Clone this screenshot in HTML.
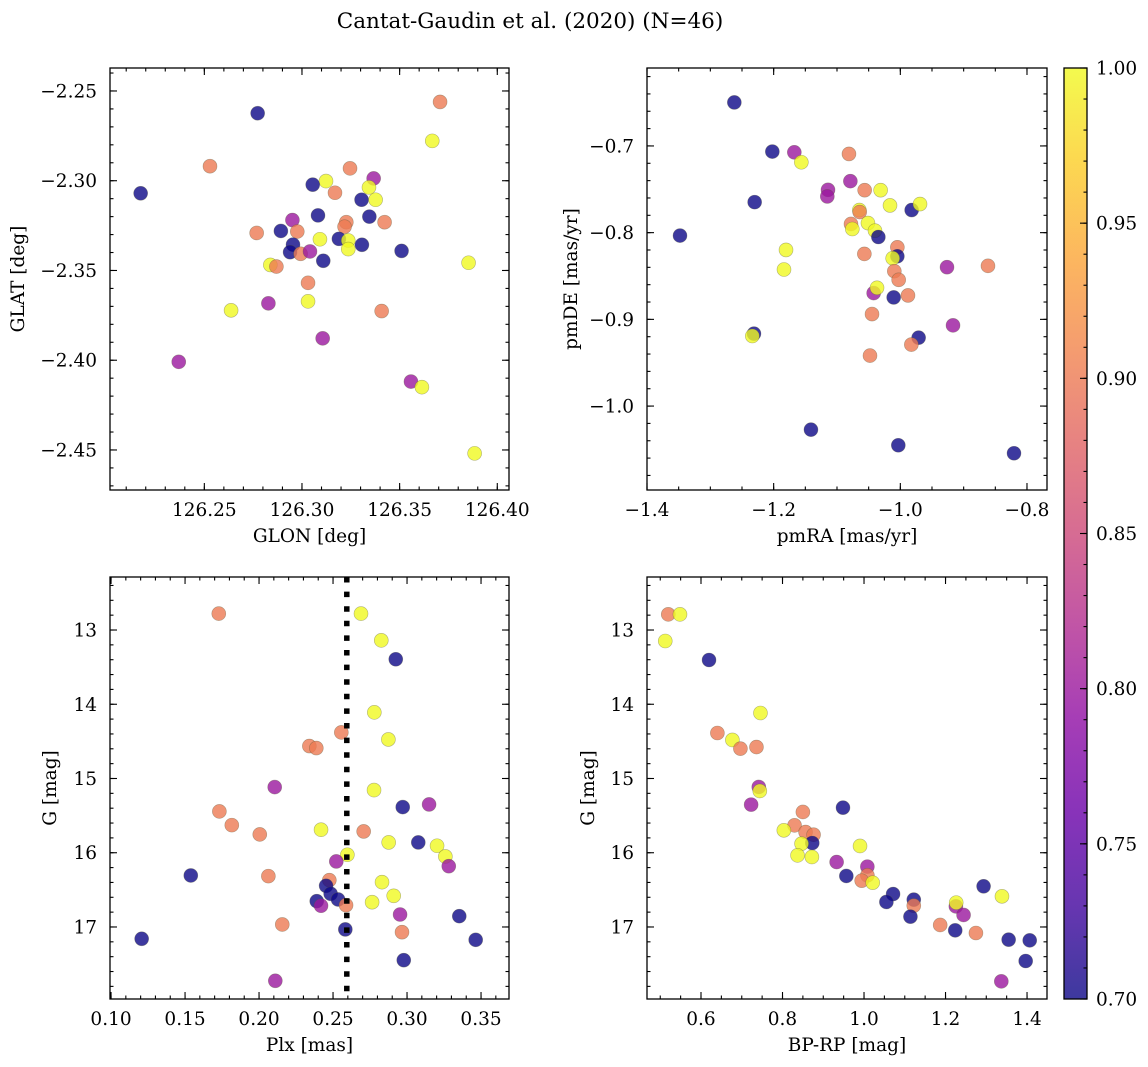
<!DOCTYPE html>
<html><head><meta charset="utf-8"><style>
html,body{margin:0;padding:0;background:#fff;}
svg{display:block;font-family:"DejaVu Serif","Liberation Serif",serif;}
</style></head><body>
<svg id="fig" width="1148" height="1067" viewBox="0 0 1148 1067" xmlns="http://www.w3.org/2000/svg">
<defs>
<linearGradient id="plasmaGrad" x1="0" y1="1" x2="0" y2="0">
<stop offset="0" stop-color="#0d0887"/><stop offset="0.1" stop-color="#41049d"/><stop offset="0.2" stop-color="#6a00a8"/><stop offset="0.3" stop-color="#8f0da4"/><stop offset="0.4" stop-color="#b12a90"/><stop offset="0.5" stop-color="#cc4778"/><stop offset="0.6" stop-color="#e16462"/><stop offset="0.7" stop-color="#f2844b"/><stop offset="0.8" stop-color="#fca636"/><stop offset="0.9" stop-color="#fcce25"/><stop offset="1" stop-color="#f0f921"/>
</linearGradient>
</defs>
<text x="530" y="28" font-size="21.5" text-anchor="middle">Cantat-Gaudin et al. (2020) (N=46)</text>
</svg>
<script>
// ---- data: sky positions ----
const skyGlon=[126.2174,126.2773,126.2529,126.3707,126.3667,126.3246,126.3367,126.3123,126.3055,126.3343,126.3169,126.3305,126.3377,126.3082,126.3345,126.3423,126.2951,126.3227,126.3218,126.2768,126.2892,126.2976,126.3092,126.3189,126.3237,126.3237,126.3307,126.2954,126.2939,126.2993,126.3041,126.3109,126.3510,126.3853,126.2838,126.2869,126.3031,126.3031,126.2828,126.2637,126.3408,126.3106,126.2369,126.3558,126.3614,126.3884];
const skyGlat=[-2.3070,-2.2624,-2.2919,-2.2561,-2.2778,-2.2931,-2.2987,-2.3002,-2.3022,-2.3037,-2.3067,-2.3106,-2.3106,-2.3193,-2.3200,-2.3231,-2.3219,-2.3231,-2.3256,-2.3291,-2.3280,-2.3283,-2.3326,-2.3324,-2.3333,-2.3381,-2.3357,-2.3356,-2.3398,-2.3407,-2.3394,-2.3446,-2.3391,-2.3457,-2.3469,-2.3478,-2.3569,-2.3672,-2.3683,-2.3722,-2.3726,-2.3878,-2.4009,-2.4119,-2.4150,-2.4519];
const skyProb=[.70,.70,.90,.90,1,.90,.80,1,.70,1,.90,.70,1,.70,.70,.90,.80,.90,.90,.90,.70,.90,1,.70,1,1,.70,.70,.70,.90,.80,.70,.70,1,1,.90,.90,1,.80,1,.90,.80,.80,.80,1,1];
// ---- data: proper motions ----
const pmRA=[-1.2621,-1.2021,-1.1674,-1.1563,-1.0811,-1.0789,-1.1142,-1.1153,-1.0563,-1.0311,-1.0163,-0.9821,-0.9689,-1.2300,-1.0647,-1.0642,-1.0779,-1.0758,-1.0511,-1.0400,-1.0347,-1.3479,-1.1805,-1.1837,-1.0568,-1.0047,-1.0047,-1.0121,-1.0095,-1.0026,-0.9263,-0.8616,-1.0421,-1.0368,-1.0105,-0.9879,-1.0447,-0.9168,-0.9711,-0.9826,-1.0479,-1.2311,-1.2337,-1.1411,-1.0032,-0.8205];
const pmDE=[-0.6498,-0.7065,-0.7073,-0.7188,-0.7092,-0.7406,-0.7506,-0.7582,-0.7510,-0.7510,-0.7686,-0.7739,-0.7670,-0.7648,-0.7739,-0.7762,-0.7900,-0.7958,-0.7889,-0.7977,-0.8050,-0.8034,-0.8199,-0.8425,-0.8245,-0.8169,-0.8272,-0.8295,-0.8444,-0.8544,-0.8398,-0.8383,-0.8697,-0.8636,-0.8747,-0.8724,-0.8939,-0.9069,-0.9211,-0.9291,-0.9418,-0.9165,-0.9192,-1.0272,-1.0452,-1.0544];
const pmProb=[.70,.70,.80,1,.90,.80,.80,.80,.90,1,1,.70,1,.70,1,.90,.90,1,1,1,.70,.70,1,1,.90,.90,.70,1,.90,.90,.80,.90,.80,1,.70,.90,.90,.80,.70,.90,.90,.70,1,.70,.70,.70];
// ---- data: parallax vs G ----
const plxVals=[0.1728,0.2689,0.2826,0.2924,0.2779,0.2556,0.2874,0.2340,0.2387,0.2106,0.2777,0.2971,0.3149,0.1732,0.1816,0.2005,0.2419,0.2707,0.2876,0.3076,0.3203,0.3259,0.3282,0.2597,0.2522,0.1539,0.2063,0.2475,0.2453,0.2484,0.2534,0.2390,0.2419,0.2588,0.2831,0.2910,0.2764,0.2953,0.3353,0.2157,0.2583,0.2966,0.1207,0.3464,0.2978,0.2110];
const plxG=[12.779,12.779,13.139,13.394,14.109,14.379,14.474,14.563,14.590,15.116,15.156,15.385,15.349,15.443,15.628,15.753,15.690,15.713,15.861,15.861,15.906,16.050,16.181,16.027,16.117,16.306,16.315,16.369,16.445,16.553,16.629,16.652,16.714,16.706,16.396,16.580,16.666,16.832,16.854,16.966,17.033,17.070,17.159,17.173,17.447,17.725];
const plxProb=[.90,1,1,.70,1,.90,1,.90,.90,.80,1,.70,.80,.90,.90,.90,1,.90,1,.70,1,1,.80,1,.80,.70,.90,.90,.70,.70,.70,.70,.80,.90,1,1,1,.80,.70,.90,.70,.90,.70,.70,.70,.80];
const plxCut=[0.2593];
// ---- data: colour-magnitude ----
const cmdBPRP=[0.5197,0.5484,0.5123,0.6197,0.7459,0.6402,0.6770,0.6967,0.7361,0.7418,0.7443,0.7230,0.9484,0.8500,0.8295,0.8033,0.8566,0.8762,0.8730,0.8467,0.8369,0.8721,0.9902,0.9328,1.0082,1.0082,0.9943,1.0213,0.9566,1.0713,1.0549,1.1221,1.1221,1.1139,1.2254,1.2262,1.2443,1.1869,1.2238,1.2746,1.2934,1.3385,1.3549,1.4066,1.3967,1.3369];
const cmdG=[12.789,12.789,13.148,13.404,14.118,14.387,14.481,14.598,14.576,15.114,15.168,15.352,15.393,15.451,15.631,15.698,15.721,15.757,15.869,15.878,16.035,16.057,15.909,16.125,16.187,16.304,16.376,16.403,16.313,16.556,16.663,16.632,16.713,16.861,16.722,16.672,16.838,16.973,17.045,17.081,16.452,16.587,17.171,17.180,17.458,17.732];
const cmdProb=[.90,1,1,.70,1,.90,1,.90,.90,.80,1,.80,.70,.90,.90,1,.90,.90,.70,1,1,1,1,.80,.80,.90,.90,1,.70,.70,.70,.70,.90,.70,.80,1,.80,.90,.70,.90,.70,1,.70,.70,.70,.80];
// ---- tick arrays ----
const skyXTicks=[126.25,126.30,126.35,126.40];
const skyXLabels=["126.25","126.30","126.35","126.40"];
const skyYTicks=[-2.25,-2.30,-2.35,-2.40,-2.45];
const skyYLabels=["\u22122.25","\u22122.30","\u22122.35","\u22122.40","\u22122.45"];
const pmXTicks=[-1.4,-1.2,-1.0,-0.8];
const pmXLabels=["\u22121.4","\u22121.2","\u22121.0","\u22120.8"];
const pmYTicks=[-0.7,-0.8,-0.9,-1.0];
const pmYLabels=["\u22120.7","\u22120.8","\u22120.9","\u22121.0"];
const plxXTicks=[0.10,0.15,0.20,0.25,0.30,0.35];
const plxXLabels=["0.10","0.15","0.20","0.25","0.30","0.35"];
const gTicks=[13,14,15,16,17];
const gLabels=["13","14","15","16","17"];
const cmdXTicks=[0.6,0.8,1.0,1.2,1.4];
const cmdXLabels=["0.6","0.8","1.0","1.2","1.4"];
const cbTicks=[0.70,0.75,0.80,0.85,0.90,0.95,1.00];
const cbLabels=["0.70","0.75","0.80","0.85","0.90","0.95","1.00"];

const NS="http://www.w3.org/2000/svg";
const svg=document.getElementById('fig');
const stops=[[13,8,135],[65,4,157],[106,0,168],[143,13,164],[177,42,144],[204,71,120],[225,100,98],[242,132,75],[252,166,54],[252,206,37],[240,249,33]];
function plasma(t){t=Math.max(0,Math.min(1,t));const f=t*10;const i=Math.min(9,Math.floor(f));const u=f-i;const a=stops[i],b=stops[i+1];return 'rgb('+[0,1,2].map(k=>Math.round(a[k]+(b[k]-a[k])*u)).join(',')+')';}
function mk(tag,attrs,parent){const e=document.createElementNS(NS,tag);for(const k in attrs)e.setAttribute(k,attrs[k]);(parent||svg).appendChild(e);return e;}
const FS=18.5;

function panel(c,xs,ys,ps){
  const g=mk('g',{});
  
  
  const X=v=>c.x0+(v-c.xmin)/(c.xmax-c.xmin)*c.w;
  const Y=v=>c.y0+(v-c.ymax)/(c.ymin-c.ymax)*c.h;
  const pg=mk('g',{},g);
  
  
  for(let i=0;i<xs.length;i++){
    const t=(ps[i]-0.70)/0.30;
    const p=mk('circle',{cx:X(xs[i]).toFixed(2),cy:Y(ys[i]).toFixed(2),r:7,fill:plasma(t),'fill-opacity':0.8,stroke:'rgba(90,90,60,0.45)','stroke-width':0.6},pg);
    
    
  }
  if(c.vline){for(const v of c.vline){
    const l=mk('line',{x1:X(v),x2:X(v),y1:c.y0,y2:c.y0+c.h,stroke:'#000','stroke-width':5.5,'stroke-dasharray':'5.5 9.1'},g);
    
    
  }}
  const fr=mk('rect',{x:c.x0,y:c.y0,width:c.w,height:c.h,fill:'none',stroke:'#000','stroke-width':1.3},g);
  
  
  const tg=mk('g',{stroke:'#000','stroke-width':1.1},g);
  
  
  const lo=Math.min(c.xmin,c.xmax),hi=Math.max(c.xmin,c.xmax);
  for(let v=Math.ceil(lo/c.xminor-1e-6)*c.xminor;v<=hi+1e-9;v+=c.xminor){const x=X(v);mk('line',{x1:x,x2:x,y1:c.y0+c.h,y2:c.y0+c.h-3.5},tg);mk('line',{x1:x,x2:x,y1:c.y0,y2:c.y0+3.5},tg);}
  const ylo=Math.min(c.ymin,c.ymax),yhi=Math.max(c.ymin,c.ymax);
  for(let v=Math.ceil(ylo/c.yminor-1e-6)*c.yminor;v<=yhi+1e-9;v+=c.yminor){const y=Y(v);mk('line',{x1:c.x0,x2:c.x0+3.5,y1:y,y2:y},tg);mk('line',{x1:c.x0+c.w,x2:c.x0+c.w-3.5,y1:y,y2:y},tg);}
  c.xt.forEach((v,i)=>{const x=X(v);mk('line',{x1:x,x2:x,y1:c.y0+c.h,y2:c.y0+c.h-7},tg);mk('line',{x1:x,x2:x,y1:c.y0,y2:c.y0+7},tg);
    const t=mk('text',{x:x,y:c.y0+c.h+26,'font-size':FS,'text-anchor':'middle'},g);t.textContent=c.xl[i];
    
    });
  c.yt.forEach((v,i)=>{const y=Y(v);mk('line',{x1:c.x0,x2:c.x0+7,y1:y,y2:y},tg);mk('line',{x1:c.x0+c.w,x2:c.x0+c.w-7,y1:y,y2:y},tg);
    const t=mk('text',{x:c.x0-13,y:y+6.5,'font-size':FS,'text-anchor':'end'},g);t.textContent=c.yl[i];
    
    });
  const xt=mk('text',{x:c.x0+c.w/2,y:c.y0+c.h+52,'font-size':FS,'text-anchor':'middle'},g);xt.textContent=c.xlabel;
  
  
  const yt=mk('text',{x:0,y:0,'font-size':FS,'text-anchor':'middle',transform:'translate('+c.ylx+','+(c.y0+c.h/2)+') rotate(-90)'},g);yt.textContent=c.ylabel;
  
  
}

panel({name:'sky-panel',x0:110,y0:68,w:399,h:422,xmin:126.2017,xmax:126.4060,ymin:-2.4723,ymax:-2.2372,xminor:0.01,yminor:0.01,xt:skyXTicks,xl:skyXLabels,yt:skyYTicks,yl:skyYLabels,xlabel:'GLON [deg]',ylabel:'GLAT [deg]',ylx:24},skyGlon,skyGlat,skyProb);
panel({name:'pm-panel',x0:647,y0:68,w:400,h:422,xmin:-1.4,xmax:-0.7684,ymin:-1.0968,ymax:-0.6101,xminor:0.05,yminor:0.02,xt:pmXTicks,xl:pmXLabels,yt:pmYTicks,yl:pmYLabels,xlabel:'pmRA [mas/yr]',ylabel:'pmDE [mas/yr]',ylx:577},pmRA,pmDE,pmProb);
panel({name:'plx-panel',x0:110,y0:577,w:399,h:422,xmin:0.0993,xmax:0.3689,ymin:17.970,ymax:12.286,xminor:0.01,yminor:0.2,xt:plxXTicks,xl:plxXLabels,yt:gTicks,yl:gLabels,xlabel:'Plx [mas]',ylabel:'G [mag]',ylx:56,vline:plxCut},plxVals,plxG,plxProb);
panel({name:'cmd-panel',x0:647,y0:577,w:400,h:422,xmin:0.4675,xmax:1.449,ymin:17.970,ymax:12.286,xminor:0.05,yminor:0.2,xt:cmdXTicks,xl:cmdXLabels,yt:gTicks,yl:gLabels,xlabel:'BP-RP [mag]',ylabel:'G [mag]',ylx:594},cmdBPRP,cmdG,cmdProb);

// colorbar
(function(){
  const cx=1064,cy=68,cw=23,ch=931;
  const g=mk('g',{});
  
  
  const r=mk('rect',{x:cx,y:cy,width:cw,height:ch,fill:'url(#plasmaGrad)','fill-opacity':0.8},g);
  
  
  mk('rect',{x:cx,y:cy,width:cw,height:ch,fill:'none',stroke:'#000','stroke-width':1.3},g);
  const Y=v=>cy+ch-(v-0.70)/0.30*ch;
  for(let k=0;k<=30;k++){const y=Y(0.70+k*0.01);mk('line',{x1:cx+cw,x2:cx+cw-3.5,y1:y,y2:y,stroke:'#000','stroke-width':1.1},g);}
  cbTicks.forEach((v,i)=>{const y=Y(v);mk('line',{x1:cx+cw,x2:cx+cw-7,y1:y,y2:y,stroke:'#000','stroke-width':1.1},g);
    const t=mk('text',{x:cx+cw+9,y:y+6.5,'font-size':FS},g);t.textContent=cbLabels[i];
    
    });
})();
</script>
</body></html>
